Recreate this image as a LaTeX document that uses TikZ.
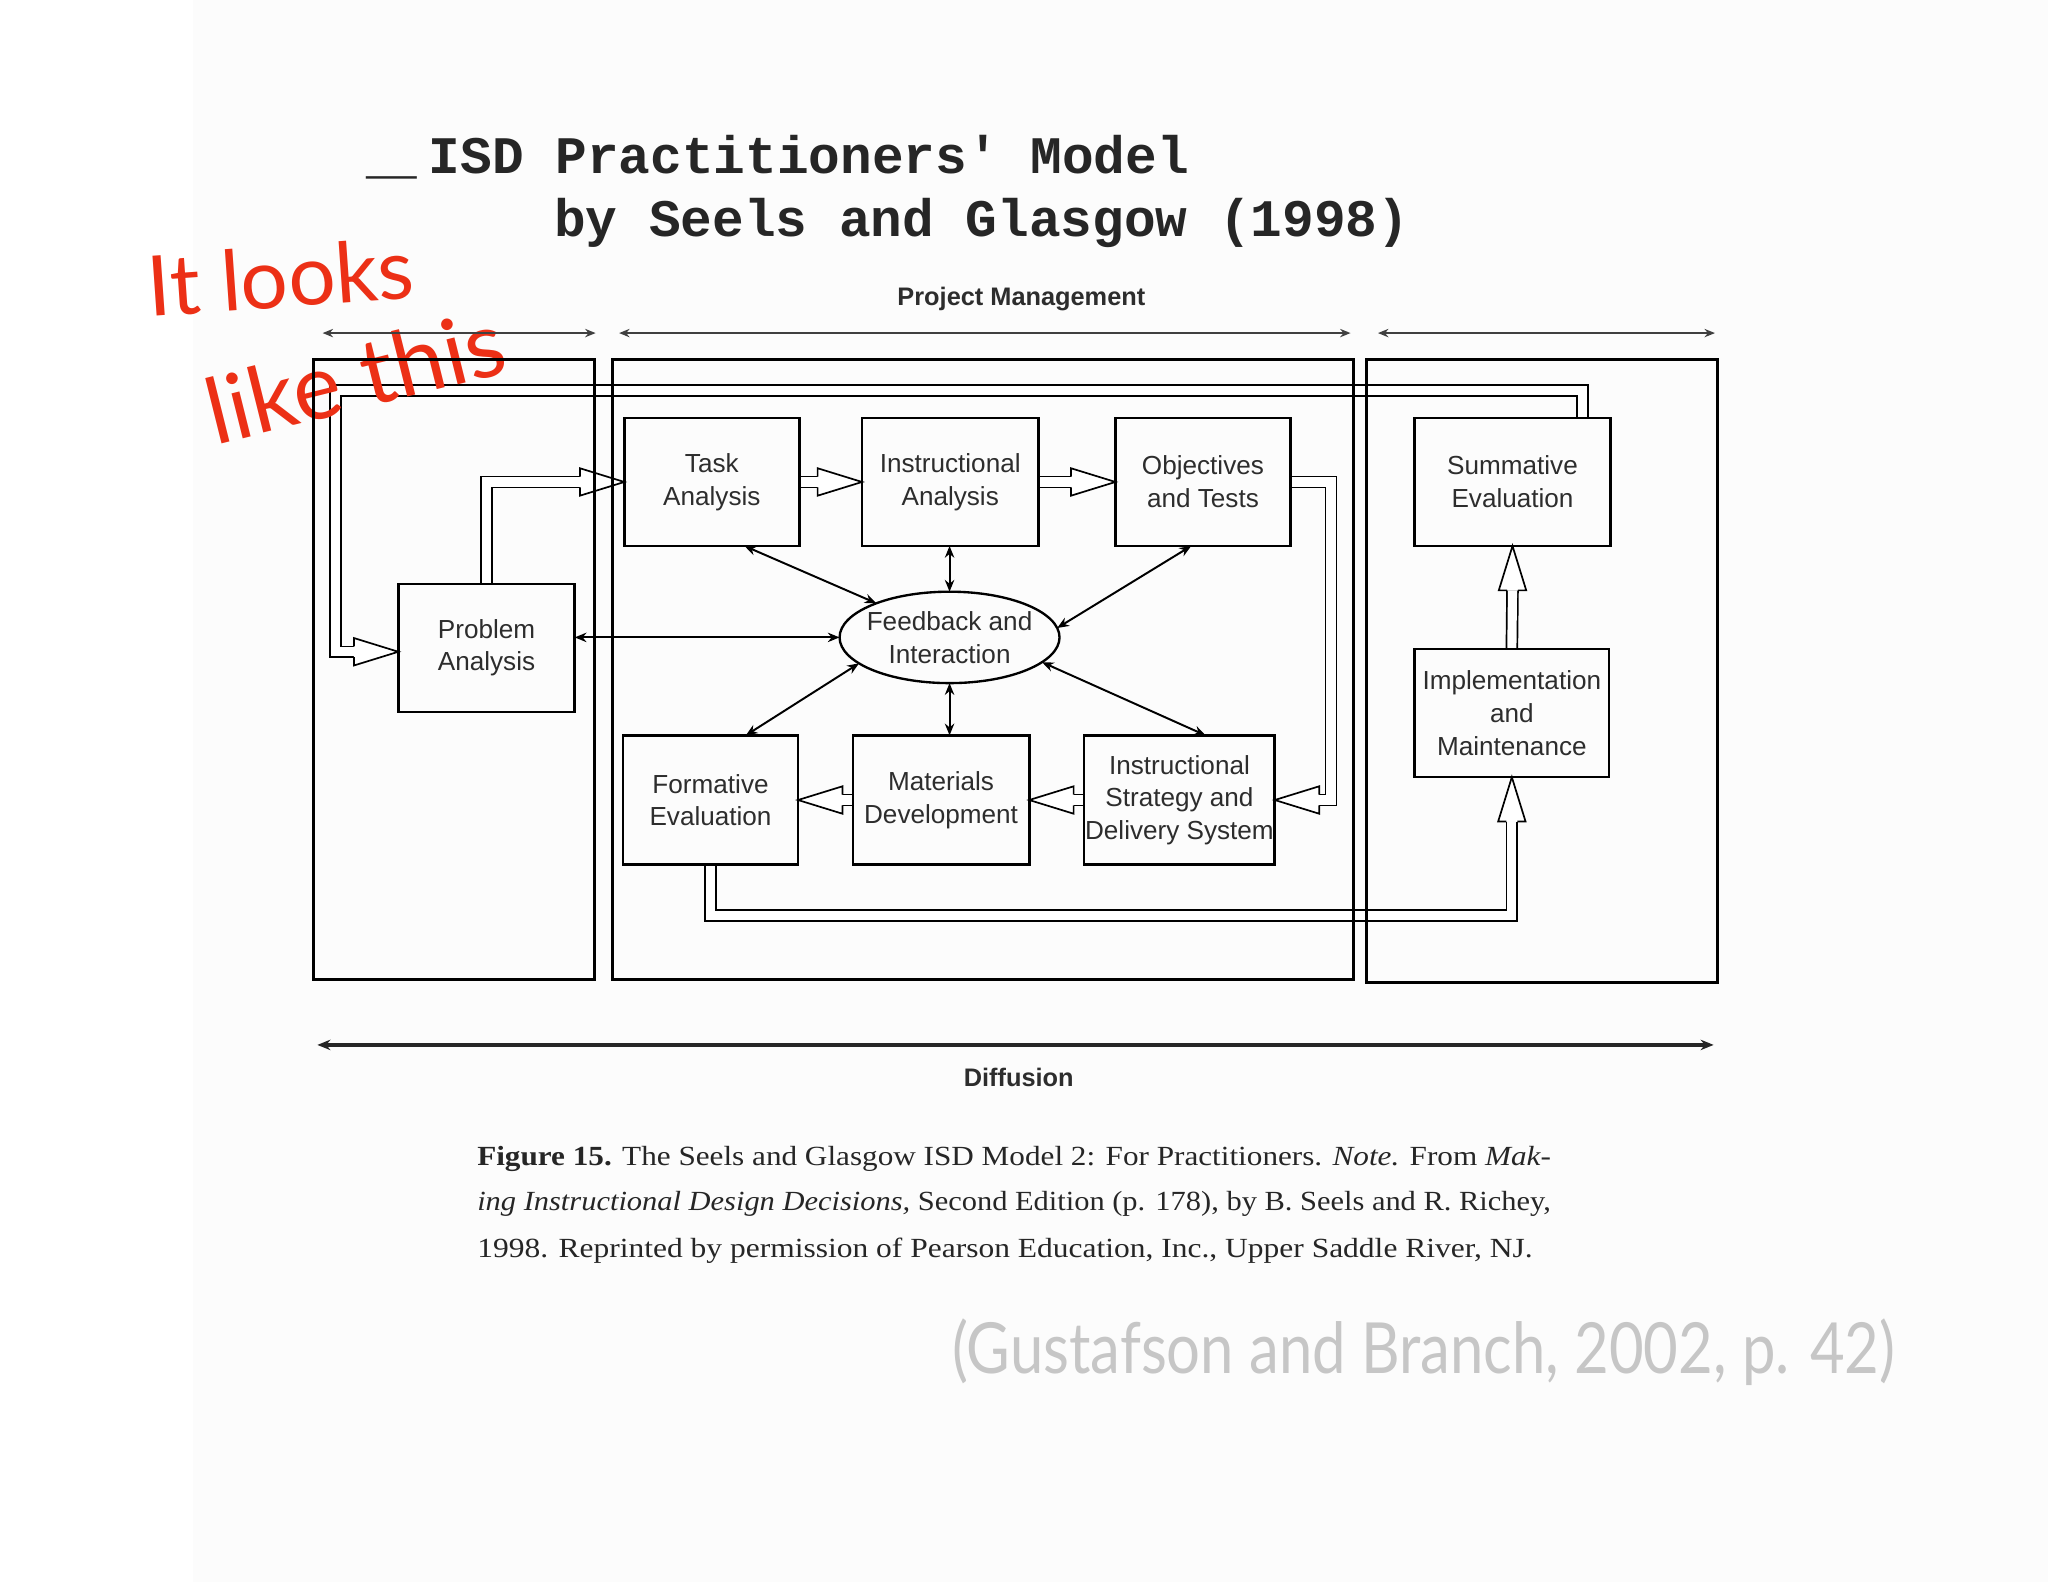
\documentclass[tikz,border=0pt]{standalone}
\usepackage{fontspec}
\usepackage{graphicx}
\setmainfont{Liberation Serif}
\newfontfamily\boxfont{Liberation Sans}
\newfontfamily\monofont{Liberation Mono}[Ligatures=TeXOff]
\newfontfamily\handfont{Lato}
\usetikzlibrary{arrows.meta,shapes.geometric,calc}

\definecolor{inkred}{RGB}{236,48,22}
\definecolor{pencil}{RGB}{198,198,198}
\definecolor{txt}{RGB}{45,45,45}

\pgfdeclarelayer{bg}
\pgfdeclarelayer{back}
\pgfsetlayers{bg,back,main}

\tikzset{
  box/.style={draw, line width=1pt, minimum width=67pt, minimum height=49pt,
    inner sep=0pt, outer sep=0pt, align=center, text=txt,
    font=\boxfont\fontsize{10}{12.5}\selectfont},
  frame/.style={draw, line width=1.2pt},
  hollow/.style={draw, double=white, double distance=3.5pt, line width=0.65pt, line join=miter},
  link/.style={{Stealth[length=4.5pt,width=3.6pt]}-{Stealth[length=4.5pt,width=3.6pt]}, line width=0.75pt},
  span/.style={{Stealth[length=4pt,width=3.2pt]}-{Stealth[length=4pt,width=3.2pt]}, line width=0.75pt, black!75},
  hhead/.pic={
    \fill[white] (0,0) -- (-34,10.5) -- (-34,-10.5) -- cycle;
    \draw[line width=0.65pt, line join=miter] (-34,4.15) -- (-34,10.5) -- (0,0) -- (-34,-10.5) -- (-34,-4.15);
  },
  lbl/.style={font=\boxfont\bfseries\fontsize{9.7}{11}\selectfont, text=txt, inner sep=0pt},
  ttl/.style={font=\monofont\bfseries\fontsize{20.2}{24}\selectfont, anchor=base west, inner sep=0pt, text=black!85},
  capt/.style={font=\fontsize{10.6}{12}\selectfont, anchor=base west, inner sep=0pt, text=black!85},
  hand/.style={font=\handfont\fontsize{32}{34}\selectfont, text=inkred, inner sep=0pt},
}

\begin{document}
\begin{tikzpicture}[x=0.5pt,y=-0.5pt]
\useasboundingbox (0,0) rectangle (1568,1211);
\begin{pgfonlayer}{bg}
  \fill[white] (0,0) rectangle (1568,1211);
  \fill[black!1.2] (148,0) rectangle (1568,1211);
\end{pgfonlayer}

% title
\node[ttl] (t0) at (280,133) {\scalebox{1.6}[1]{\_}};
\node[ttl] (t1) at (328,133) {ISD Practitioners' Model};
\node[ttl] (t2) at (424,181) {by Seels and Glasgow (1998)};

% handwriting
\node[hand, rotate=4] (h1) at (215,212) {It looks};
\node[hand, rotate=14, font=\handfont\fontsize{35}{37}\selectfont] (h2) at (272,288) {like this};

% boxes
\node[box] (task) at (545,369) {Task\\Analysis};
\node[box, minimum width=67.5pt] (instr) at (727.5,369) {Instructional\\Analysis};
\node[box] (obj) at (921,369) {Objectives\\and Tests};
\node[box, minimum width=75pt] (summ) at (1158,369) {Summative\\Evaluation};
\node[box, minimum width=67.5pt] (prob) at (372.5,496) {Problem\\Analysis};
\node[box, minimum width=74.5pt] (impl) at (1157.5,546) {Implementation\\and\\Maintenance};
\node[box, minimum height=49.5pt] (form) at (544,612.5) {Formative\\Evaluation};
\node[box, minimum width=67.5pt, minimum height=49.5pt] (mat) at (720.5,612.5) {Materials\\Development};
\node[box, minimum width=73pt, minimum height=49.5pt] (strat) at (903,612.5) {Instructional\\Strategy and\\Delivery System};
\node[draw, ellipse, line width=0.9pt, minimum width=84.2pt, minimum height=35pt, inner xsep=-2.6pt, inner ysep=0pt, outer sep=0pt,
  align=center, text=txt, font=\boxfont\fontsize{10}{12.5}\selectfont] (fb) at (727,488) {Feedback and\\Interaction};

% hollow arrows
\begin{pgfonlayer}{back}
  \draw[hollow] (prob.north) |- ($(task.west)+(-34,0)$);
  \pic at (task.west) {hhead};
  \draw[hollow] (task.east) -- ($(instr.west)+(-34,0)$);
  \pic at (instr.west) {hhead};
  \draw[hollow] (instr.east) -- ($(obj.west)+(-34,0)$);
  \pic at (obj.west) {hhead};
  \coordinate (rr) at (1019,0);
  \draw[hollow] (obj.east) -- (obj.east -| rr) -- (strat.east -| rr) -- ($(strat.east)+(34,0)$);
  \pic[rotate=180] at (strat.east) {hhead};
  \draw[hollow] (strat.west) -- ($(mat.east)+(34,0)$);
  \pic[rotate=180] at (mat.east) {hhead};
  \draw[hollow] (mat.west) -- ($(form.east)+(34,0)$);
  \pic[rotate=180] at (form.east) {hhead};
  \coordinate (bb) at (0,701);
  \draw[hollow] (form.south) -- (form.south |- bb) -- (impl.south |- bb) -- ($(impl.south)+(0,34)$);
  \pic[rotate=90] at (impl.south) {hhead};
  \draw[hollow] (impl.north) -- ($(summ.south)+(0,34)$);
  \pic[rotate=90] at (summ.south) {hhead};
  \coordinate (sumout) at ($(summ.north east)+(-21.5,0)$);
  \coordinate (lt) at (257,299);
  \coordinate (probin) at ($(prob.west)+(0,3)$);
  \draw[hollow] (sumout) |- (lt) |- ($(probin)+(-34,0)$);
  \pic at (probin) {hhead};
\end{pgfonlayer}

% frames
\draw[frame] (240,275) rectangle (455,750);
\draw[frame] (469,275) rectangle (1036,750);
\draw[frame] (1046,275) rectangle (1315,752);

% links to feedback
\draw[link] ($(task.south)+(25,0)$) -- (fb.155);
\draw[link] (fb.north |- instr.south) -- (fb.north);
\draw[link] ($(obj.south)+(-9,0)$) -- (fb.5);
\draw[link] (prob.east |- fb.west) -- (fb.west);
\draw[link] ($(form.north)+(27,0)$) -- (fb.196);
\draw[link] (fb.south |- mat.north) -- (fb.south);
\draw[link] ($(strat.north)+(20,0)$) -- (fb.345);

% project management spans
\node[lbl] (pm) at (782,229) {Project Management};
\coordinate (pa1) at (247,255); \coordinate (pa2) at (456,255);
\coordinate (pb1) at (474,255); \coordinate (pb2) at (1034,255);
\coordinate (pc1) at (1055,255); \coordinate (pc2) at (1313,255);
\draw[span] (pa1) -- (pa2);
\draw[span] (pb1) -- (pb2);
\draw[span] (pc1) -- (pc2);

% diffusion
\coordinate (d1) at (243,800); \coordinate (d2) at (1312,800);
\draw[{Stealth[length=5pt,width=4pt]}-{Stealth[length=5pt,width=4pt]}, line width=1.3pt, black!85] (d1) -- (d2);
\node[lbl] (diff) at (780,825) {Diffusion};

% caption
\node[capt] (c1) at (365,892) {\resizebox{411pt}{\height}{\textbf{Figure 15.} The Seels and Glasgow ISD Model 2: For Practitioners. \textit{Note.} From \textit{Mak-}}};
\node[capt] (c2) at (365,927) {\resizebox{411pt}{\height}{\textit{ing Instructional Design Decisions,} Second Edition (p. 178), by B. Seels and R. Richey,}};
\node[capt] (c3) at (365,963) {\resizebox{404pt}{\height}{1998. Reprinted by permission of Pearson Education, Inc., Upper Saddle River, NJ.}};

% pencil citation
\node[font=\handfont\fontsize{27}{30}\selectfont, text=pencil, inner sep=0pt] (cite) at (1090,1035)
  {\resizebox{361pt}{\height}{(Gustafson and Branch, 2002, p. 42)}};
\end{tikzpicture}
\end{document}
